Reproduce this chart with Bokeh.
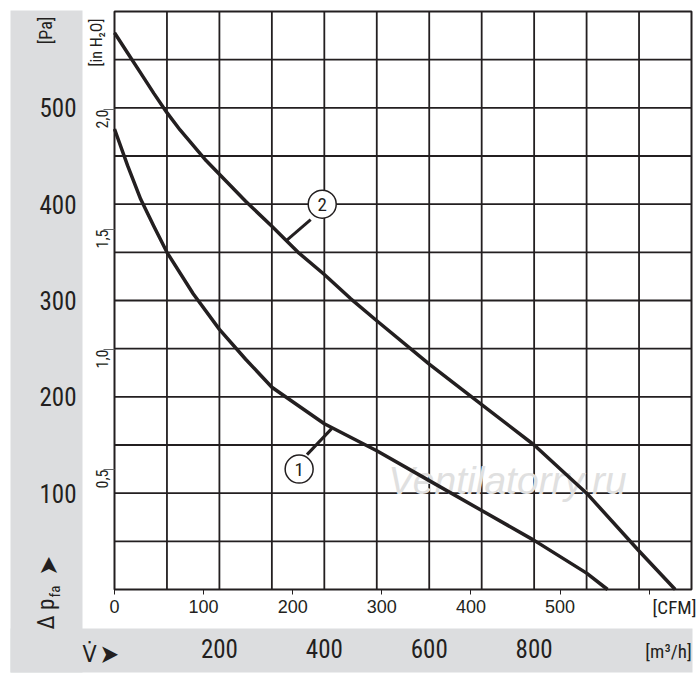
import math
from bokeh.plotting import figure
from bokeh.models import Range1d, LinearAxis, FixedTicker, BoxAnnotation, Label
from bokeh.core.properties import value
from bokeh.embed import file_html
from bokeh.resources import INLINE

# ---------------- data ----------------
curve1_flow = [0, 25, 50, 75, 100, 150, 200, 250, 300, 350, 400, 450, 500, 600, 700, 800, 900, 940]
curve1_pa = [478, 440, 405, 377, 350, 307, 270, 239, 210, 191, 172, 158, 144, 113, 82, 51, 17, 0]

curve2_flow = [0, 25, 50, 75, 100, 125, 150, 175, 200, 250, 300, 350, 400, 450, 500, 600, 700,
               800, 900, 1000, 1069]
curve2_pa = [578, 557, 536, 515, 495, 477, 461, 445, 431, 403, 377, 350, 327, 302, 279, 234, 192,
             150, 100, 40, 0]

pa_ticks = [100, 200, 300, 400, 500]
inh2o_ticks = [0.5, 1.0, 1.5, 2.0]
inh2o_labels = ["0,5", "1,0", "1,5", "2,0"]
cfm_ticks = [0, 100, 200, 300, 400, 500, 600]
cfm_labels = ["0", "100", "200", "300", "400", "500", ""]
m3h_ticks = [200, 400, 600, 800]

callout_ids = ["1", "2"]
callout_x = [352, 396]
callout_y = [125, 400]
leader_x0 = [367, 374]
leader_y0 = [140, 384]
leader_x1 = [414, 327]
leader_y1 = [167, 362]

X_MAX = 1100
Y_MAX = 600
X_STEP = 100
Y_STEP = 50
PA_PER_INH2O = 249.089
M3H_PER_CFM = 1.699011

# ---------------- layout (page pixels) ----------------
W, H = 700, 680
PAGE = 0
CH_LEFT, CH_RIGHT, CH_TOP, CH_BOTTOM = 114, 691, 11, 589
TXT = "#231f20"
GRAY = "#dcdddf"
FONT = "'Roboto Condensed', 'DejaVu Sans Condensed', 'Liberation Sans Narrow', 'Liberation Sans', sans-serif"
FONT_REG = "'Liberation Sans', Arial, sans-serif"

SX = (CH_RIGHT - CH_LEFT) / X_MAX
SY = (CH_BOTTOM - CH_TOP) / Y_MAX


def px2x(px):
    return (px - CH_LEFT) / SX


def py2y(py):
    return (CH_BOTTOM - py) / SY


x0, x1 = px2x(PAGE), px2x(PAGE + W)
y0, y1 = py2y(PAGE + H), py2y(PAGE)

p = figure(width=W, height=H, x_range=Range1d(x0, x1), y_range=Range1d(y0, y1),
           x_axis_location=None, y_axis_location=None,
           output_backend="svg", toolbar_location=None,
           min_border=0, min_border_left=0, min_border_right=0,
           min_border_top=0, min_border_bottom=0)
p.background_fill_color = "white"
p.border_fill_color = "white"
p.outline_line_color = None
p.grid.visible = False
p.extra_y_ranges = {"inh2o": Range1d(y0 / PA_PER_INH2O, y1 / PA_PER_INH2O)}
p.extra_x_ranges = {"cfm": Range1d(x0 / M3H_PER_CFM, x1 / M3H_PER_CFM)}

# gray side panels
p.add_layout(BoxAnnotation(left=px2x(10), right=px2x(82), bottom=py2y(672), top=py2y(10),
                           fill_color=GRAY, fill_alpha=1, line_alpha=0, level="underlay"))
p.add_layout(BoxAnnotation(left=px2x(10), right=px2x(692), bottom=py2y(672), top=py2y(628),
                           fill_color=GRAY, fill_alpha=1, line_alpha=0, level="underlay"))

# grid lines and chart border
gx = list(range(X_STEP, X_MAX, X_STEP))
gy = list(range(Y_STEP, Y_MAX, Y_STEP))
p.segment(x0=gx, y0=[0] * len(gx), x1=gx, y1=[Y_MAX] * len(gx), line_color=TXT, line_width=1.8)
p.segment(x0=[0] * len(gy), y0=gy, x1=[X_MAX] * len(gy), y1=gy, line_color=TXT, line_width=1.8)
p.quad(left=0, right=X_MAX, bottom=0, top=Y_MAX, fill_color=None, line_color=TXT, line_width=2)

# watermark
p.text(x=[px2x(507)], y=[py2y(480)], text=["Ventilatorry.ru"],
       text_font=value("Liberation Sans"), text_font_style="italic", text_font_size="39px",
       text_color="#e0e0e0", text_align="center", text_baseline="middle")

# curves
p.line(curve1_flow, curve1_pa, line_color=TXT, line_width=3.5, line_join="round")
p.line(curve2_flow, curve2_pa, line_color=TXT, line_width=3.5, line_join="round")

# callouts
p.segment(x0=leader_x0, y0=leader_y0, x1=leader_x1, y1=leader_y1, line_color=TXT, line_width=3)
p.scatter(x=callout_x, y=callout_y, marker="circle", size=28, fill_color="white",
          line_color=TXT, line_width=1.5)
p.text(x=callout_x, y=callout_y, text=callout_ids, text_font=value(FONT),
       text_font_size="19px", text_color=TXT, text_align="center", text_baseline="middle")


def style_axis(ax, size, tick_out, standoff, font=FONT):
    ax.axis_line_color = None
    ax.major_tick_out = tick_out
    ax.major_tick_in = 0
    ax.minor_tick_out = 0
    ax.minor_tick_in = 0
    ax.major_tick_line_color = TXT if tick_out else None
    ax.major_tick_line_width = 1
    ax.major_label_text_font = font
    ax.major_label_text_font_size = size
    ax.major_label_text_color = TXT
    ax.major_label_standoff = standoff


inh2o_axis = LinearAxis(y_range_name="inh2o", ticker=FixedTicker(ticks=inh2o_ticks),
                        major_label_overrides=dict(zip(inh2o_ticks, inh2o_labels)),
                        fixed_location=0)
style_axis(inh2o_axis, "16px", 11, 1)
inh2o_axis.major_tick_line_color = "#666666"
inh2o_axis.major_label_orientation = math.pi / 2

pa_axis = LinearAxis(ticker=FixedTicker(ticks=pa_ticks), fixed_location=px2x(84))
style_axis(pa_axis, "25px", 0, 8)

cfm_axis = LinearAxis(x_range_name="cfm", ticker=FixedTicker(ticks=cfm_ticks),
                      major_label_overrides=dict(zip(cfm_ticks, cfm_labels)),
                      fixed_location=0)
style_axis(cfm_axis, "18px", 5, 5, font=FONT_REG)

m3h_axis = LinearAxis(ticker=FixedTicker(ticks=m3h_ticks), fixed_location=py2y(628))
style_axis(m3h_axis, "25px", 0, 10)

p.add_layout(inh2o_axis, "left")
p.add_layout(pa_axis, "left")
p.add_layout(cfm_axis, "below")
p.add_layout(m3h_axis, "below")


def add_label(text, px, py, size, angle=0.0, align="center", baseline="middle"):
    p.add_layout(Label(x=px2x(px), y=py2y(py), text=text, text_font=FONT,
                       text_font_size=size, text_color=TXT, angle=angle,
                       text_align=align, text_baseline=baseline))


add_label("[Pa]", 44.5, 30, "18px", math.pi / 2)
add_label("[in H\u2082O]", 96, 42, "16px", math.pi / 2)
add_label("\u0394 p", 46, 629, "23px", math.pi / 2, align="left")
add_label("fa", 54, 597, "15px", math.pi / 2, align="left")
add_label("\u27a4", 47.5, 575, "26px", math.pi / 2, align="left")
add_label("V\u0307", 82, 654, "23px", 0, align="left")
add_label("\u27a4", 99, 653, "26px", 0, align="left")
add_label("[CFM]", 674, 607, "19px")
add_label("[m\u00b3/h]", 668, 651, "19px")

open("out.html", "w").write(file_html(p, INLINE))
